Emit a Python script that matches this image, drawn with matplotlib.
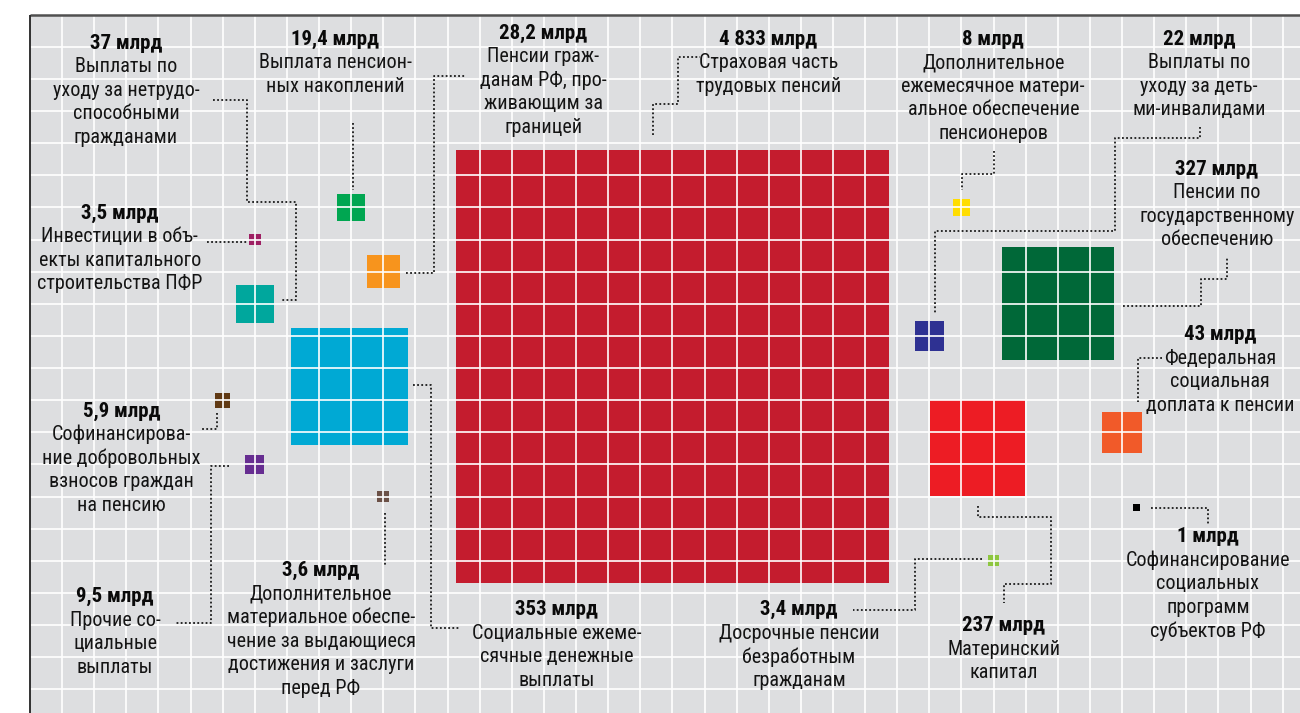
import matplotlib
matplotlib.use('Agg')
import matplotlib.pyplot as plt
from matplotlib.patches import Rectangle
import numpy as np

plt.rcParams['font.family'] = ['Roboto Condensed', 'Liberation Sans Narrow', 'Roboto', 'DejaVu Sans']
plt.rcParams['font.stretch'] = 'condensed'

# Расходы ПФР, млрд руб.
values = [4833, 353, 327, 237, 43, 37, 28.2, 22, 19.4, 9.5, 8, 5.9, 3.6, 3.5, 3.4, 1]
value_text = ['4 833 млрд', '353 млрд', '327 млрд', '237 млрд', '43 млрд', '37 млрд',
              '28,2 млрд', '22 млрд', '19,4 млрд', '9,5 млрд', '8 млрд', '5,9 млрд',
              '3,6 млрд', '3,5 млрд', '3,4 млрд', '1 млрд']
descriptions = [
    'Страховая часть\nтрудовых пенсий',
    'Социальные ежеме-\nсячные денежные\nвыплаты',
    'Пенсии по\nгосударственному\nобеспечению',
    'Материнский\nкапитал',
    'Федеральная\nсоциальная\nдоплата к пенсии',
    'Выплаты по\nуходу за нетрудо-\nспособными\nгражданами',
    'Пенсии граж-\nданам РФ, про-\nживающим за\nграницей',
    'Выплаты по\nуходу за деть-\nми-инвалидами',
    'Выплата пенсион-\nных накоплений',
    'Прочие со-\nциальные\nвыплаты',
    'Дополнительное\nежемесячное матери-\nальное обеспечение\nпенсионеров',
    'Софинансирова-\nние добровольных\nвзносов граждан\nна пенсию',
    'Дополнительное\nматериальное обеспе-\nчение за выдающиеся\nдостижения и заслуги\nперед РФ',
    'Инвестиции в объ-\nекты капитального\nстроительства ПФР',
    'Досрочные пенсии\nбезработным\nгражданам',
    'Софинансирование\nсоциальных\nпрограмм\nсубъектов РФ',
]
colors = ['#c41c2e', '#00a9d4', '#006838', '#ed1c24', '#f15a29', '#00a79d',
          '#f7941d', '#2e3192', '#00a651', '#662d91', '#ffdd00', '#603913',
          '#6b5046', '#9e1f63', '#8dc63f', '#000000']

# layout in grid cells
square_pos = [(20.0, 10.95), (9.95, 11.58), (32, 9), (29.5, 13.5), (34, 13), (7, 9),
              (11, 8), (28, 10), (10, 6), (7, 14), (29, 6), (6, 12),
              (11, 15), (7, 7), (30, 17), (34.45, 15.34)]
label_pos = [(22.99, 0.77), (16.40, 18.53), (36.95, 4.81), (30.32, 19.03), (37.05, 9.97),
             (2.99, 0.89), (15.98, 0.58), (36.40, 0.77), (9.50, 0.77), (2.65, 18.12),
             (29.99, 0.77), (2.85, 12.34), (9.06, 17.31), (2.80, 6.18), (23.94, 18.53),
             (36.67, 16.26)]
connectors = [
    [(19.41, 3.75), (19.41, 2.79), (20.17, 2.79), (20.17, 1.31), (20.86, 1.31)],
    [(11.93, 11.53), (12.47, 11.53), (12.47, 19.10), (13.39, 19.10)],
    [(34.04, 9.07), (36.45, 9.07), (36.45, 8.24), (37.26, 8.24), (37.26, 7.58)],
    [(29.50, 15.30), (29.50, 15.63), (31.79, 15.63), (31.79, 17.72), (30.32, 17.72), (30.32, 18.31)],
    [(35.23, 10.68), (34.49, 10.68), (34.49, 12.05)],
    [(5.70, 2.66), (6.76, 2.66), (6.76, 5.83), (8.27, 5.83), (8.27, 8.88), (7.81, 8.88)],
    [(11.71, 8.05), (12.59, 8.05), (12.59, 1.91), (13.54, 1.91)],
    [(36.43, 3.50), (36.43, 3.83), (33.78, 3.83), (33.78, 6.73), (28.18, 6.73), (28.18, 9.28)],
    [(10.07, 3.37), (10.07, 5.46)],
    [(6.20, 14.05), (5.63, 14.05), (5.63, 18.93), (4.51, 18.93)],
    [(30.02, 4.24), (30.02, 4.96), (29.01, 4.96), (29.01, 5.46)],
    [(5.81, 12.41), (5.81, 12.91), (5.35, 12.91)],
    [(11.05, 15.50), (11.05, 17.20)],
    [(5.50, 7.07), (6.75, 7.07)],
    [(29.63, 16.95), (27.55, 16.95), (27.55, 18.53), (25.62, 18.53)],
    [(34.89, 15.37), (36.68, 15.37), (36.68, 15.89)],
]

W, H = 1300, 713
X0, Y0, CELL = 30, 14.7, 32.12
SCALE = 6.228 / CELL  # side in cells per sqrt(млрд)
LINE = 23.5 / CELL
BG = '#dddee0'

fig = plt.figure(figsize=(W / 100, H / 100), dpi=100)
ax = fig.add_axes([0, 0, 1, 1])
xmax, ymax = (W - X0) / CELL, (H - Y0) / CELL
ax.set_xlim(-X0 / CELL, xmax)
ax.set_ylim(ymax, -Y0 / CELL)
ax.axis('off')

ax.add_patch(Rectangle((0, 0), xmax, ymax, color=BG, zorder=0, lw=0))

for v, (cx, cy), c in zip(values, square_pos, colors):
    s = np.sqrt(v) * SCALE
    ax.add_patch(Rectangle((cx - s / 2, cy - s / 2), s, s, color=c, lw=0, zorder=1))

ax.vlines(np.arange(1, int(xmax) + 1), 0, ymax, color='white', lw=1.2, zorder=2)
ax.hlines(np.arange(1, int(ymax) + 1), 0, xmax, color='white', lw=1.2, zorder=2)
ax.plot([0, xmax], [0, 0], color='#505050', lw=1.8, zorder=3, solid_capstyle='butt')
ax.plot([0, 0], [0, ymax], color='#222222', lw=1.3, zorder=3, solid_capstyle='butt')

for pts in connectors:
    xs, ys = zip(*pts)
    ax.plot(xs, ys, color='#1a1a1a', lw=1.3, ls=(0, (1, 1.3)), zorder=4)

for vt, desc, (lx, ly) in zip(value_text, descriptions, label_pos):
    ax.text(lx, ly, vt, ha='center', va='center', fontsize=15,
            fontweight='bold', color='#0a0a0a', zorder=5)
    for i, line in enumerate(desc.split('\n')):
        ax.text(lx, ly + (i + 1) * LINE, line, ha='center', va='center',
                fontsize=14.5, color='#141414', zorder=5)

fig.savefig('out.png', dpi=100)
